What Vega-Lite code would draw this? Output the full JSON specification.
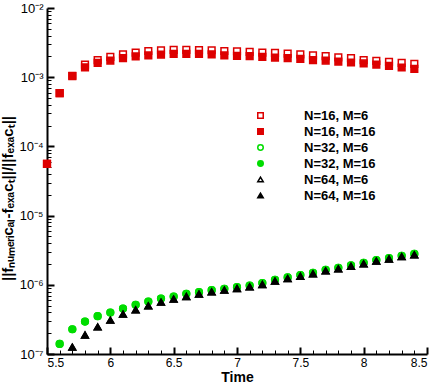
{
  "$schema": "https://vega.github.io/schema/vega-lite/v6.json",
  "width": 380,
  "height": 346,
  "autosize": {"type": "none"},
  "padding": {"left": 47, "top": 8, "right": 9, "bottom": 30},
  "background": "white",
  "config": {"view": {"stroke": null}, "font": "Liberation Sans"},
  "data": {"values": [
    {"t": 5.5, "n16m6": 5.6e-5, "n16m16": 5.6e-5, "n32m6": null, "n32m16": null, "n64m6": null, "n64m16": null},
    {"t": 5.6, "n16m6": 5.9e-4, "n16m16": 5.9e-4, "n32m6": 1.4e-7, "n32m16": 1.4e-7, "n64m6": null, "n64m16": null},
    {"t": 5.7, "n16m6": 1.05e-3, "n16m16": 1.04e-3, "n32m6": 2.28e-7, "n32m16": 2.28e-7, "n64m6": 1.26e-7, "n64m16": 1.26e-7},
    {"t": 5.8, "n16m6": 1.52e-3, "n16m16": 1.39e-3, "n32m6": 2.94e-7, "n32m16": 2.94e-7, "n64m6": 1.88e-7, "n64m16": 1.88e-7},
    {"t": 5.9, "n16m6": 1.76e-3, "n16m16": 1.61e-3, "n32m6": 3.52e-7, "n32m16": 3.52e-7, "n64m6": 2.46e-7, "n64m16": 2.46e-7},
    {"t": 6.0, "n16m6": 1.96e-3, "n16m16": 1.74e-3, "n32m6": 3.97e-7, "n32m16": 3.97e-7, "n64m6": 3.08e-7, "n64m16": 3.08e-7},
    {"t": 6.1, "n16m6": 2.14e-3, "n16m16": 1.88e-3, "n32m6": 4.54e-7, "n32m16": 4.54e-7, "n64m6": 3.76e-7, "n64m16": 3.76e-7},
    {"t": 6.2, "n16m6": 2.27e-3, "n16m16": 2.0e-3, "n32m6": 5.13e-7, "n32m16": 5.13e-7, "n64m6": 4.34e-7, "n64m16": 4.34e-7},
    {"t": 6.3, "n16m6": 2.39e-3, "n16m16": 2.07e-3, "n32m6": 5.73e-7, "n32m16": 5.73e-7, "n64m6": 4.96e-7, "n64m16": 4.96e-7},
    {"t": 6.4, "n16m6": 2.45e-3, "n16m16": 2.12e-3, "n32m6": 6.33e-7, "n32m16": 6.33e-7, "n64m6": 5.61e-7, "n64m16": 5.61e-7},
    {"t": 6.5, "n16m6": 2.49e-3, "n16m16": 2.17e-3, "n32m6": 6.77e-7, "n32m16": 6.77e-7, "n64m6": 6.21e-7, "n64m16": 6.21e-7},
    {"t": 6.6, "n16m6": 2.49e-3, "n16m16": 2.17e-3, "n32m6": 7.41e-7, "n32m16": 7.41e-7, "n64m6": 6.77e-7, "n64m16": 6.77e-7},
    {"t": 6.7, "n16m6": 2.47e-3, "n16m16": 2.17e-3, "n32m6": 7.83e-7, "n32m16": 7.83e-7, "n64m6": 7.33e-7, "n64m16": 7.33e-7},
    {"t": 6.8, "n16m6": 2.45e-3, "n16m16": 2.14e-3, "n32m6": 8.37e-7, "n32m16": 8.37e-7, "n64m6": 7.92e-7, "n64m16": 7.92e-7},
    {"t": 6.9, "n16m6": 2.39e-3, "n16m16": 2.07e-3, "n32m6": 8.75e-7, "n32m16": 8.75e-7, "n64m6": 8.35e-7, "n64m16": 8.35e-7},
    {"t": 7.0, "n16m6": 2.37e-3, "n16m16": 2.03e-3, "n32m6": 9.25e-7, "n32m16": 9.25e-7, "n64m6": 8.85e-7, "n64m16": 8.85e-7},
    {"t": 7.1, "n16m6": 2.32e-3, "n16m16": 2.01e-3, "n32m6": 9.77e-7, "n32m16": 9.77e-7, "n64m6": 9.35e-7, "n64m16": 9.35e-7},
    {"t": 7.2, "n16m6": 2.27e-3, "n16m16": 1.96e-3, "n32m6": 1.06e-6, "n32m16": 1.06e-6, "n64m6": 1.01e-6, "n64m16": 1.01e-6},
    {"t": 7.3, "n16m6": 2.24e-3, "n16m16": 1.92e-3, "n32m6": 1.18e-6, "n32m16": 1.18e-6, "n64m6": 1.13e-6, "n64m16": 1.13e-6},
    {"t": 7.4, "n16m6": 2.19e-3, "n16m16": 1.88e-3, "n32m6": 1.28e-6, "n32m16": 1.28e-6, "n64m6": 1.23e-6, "n64m16": 1.23e-6},
    {"t": 7.5, "n16m6": 2.14e-3, "n16m16": 1.84e-3, "n32m6": 1.38e-6, "n32m16": 1.38e-6, "n64m6": 1.33e-6, "n64m16": 1.33e-6},
    {"t": 7.6, "n16m6": 2.07e-3, "n16m16": 1.77e-3, "n32m6": 1.49e-6, "n32m16": 1.49e-6, "n64m6": 1.44e-6, "n64m16": 1.44e-6},
    {"t": 7.7, "n16m6": 2.01e-3, "n16m16": 1.74e-3, "n32m6": 1.65e-6, "n32m16": 1.65e-6, "n64m6": 1.59e-6, "n64m16": 1.59e-6},
    {"t": 7.8, "n16m6": 1.94e-3, "n16m16": 1.68e-3, "n32m6": 1.76e-6, "n32m16": 1.76e-6, "n64m6": 1.70e-6, "n64m16": 1.70e-6},
    {"t": 7.9, "n16m6": 1.88e-3, "n16m16": 1.63e-3, "n32m6": 1.91e-6, "n32m16": 1.91e-6, "n64m6": 1.85e-6, "n64m16": 1.85e-6},
    {"t": 8.0, "n16m6": 1.77e-3, "n16m16": 1.58e-3, "n32m6": 2.08e-6, "n32m16": 2.08e-6, "n64m6": 2.01e-6, "n64m16": 2.01e-6},
    {"t": 8.1, "n16m6": 1.72e-3, "n16m16": 1.52e-3, "n32m6": 2.28e-6, "n32m16": 2.28e-6, "n64m6": 2.20e-6, "n64m16": 2.20e-6},
    {"t": 8.2, "n16m6": 1.66e-3, "n16m16": 1.46e-3, "n32m6": 2.44e-6, "n32m16": 2.44e-6, "n64m6": 2.36e-6, "n64m16": 2.36e-6},
    {"t": 8.3, "n16m6": 1.61e-3, "n16m16": 1.38e-3, "n32m6": 2.63e-6, "n32m16": 2.63e-6, "n64m6": 2.55e-6, "n64m16": 2.55e-6},
    {"t": 8.4, "n16m6": 1.56e-3, "n16m16": 1.32e-3, "n32m6": 2.79e-6, "n32m16": 2.79e-6, "n64m6": 2.71e-6, "n64m16": 2.71e-6}
  ]},
  "transform": [
    {"fold": ["n16m6", "n16m16", "n32m6", "n32m16", "n64m6", "n64m16"], "as": ["series", "v"]},
    {"filter": "isValid(datum.v)"}
  ],
  "resolve": {"axis": {"x": "independent", "y": "independent"}},
  "layer": [
    {
      "mark": {"type": "point", "size": 45, "strokeWidth": 1.5, "opacity": 1},
      "encoding": {
        "x": {"field": "t", "type": "quantitative",
          "scale": {"domain": [5.5, 8.5], "nice": false, "zero": false},
          "axis": {"orient": "bottom", "values": [5.5, 6, 6.5, 7, 7.5, 8, 8.5], "format": "~g",
            "grid": false, "tickSize": -7, "tickWidth": 2, "tickColor": "black",
            "domainColor": "black", "domainWidth": 2,
            "labelFont": "Liberation Sans", "labelFontSize": 12, "labelColor": "black", "labelPadding": 10,
            "title": "Time", "titleFont": "Liberation Sans", "titleFontSize": 14, "titleFontWeight": "bold", "titleColor": "black",
            "titleY": 27, "titleBaseline": "alphabetic"}},
        "y": {"field": "v", "type": "quantitative",
          "scale": {"type": "log", "domain": [1e-7, 1e-2], "nice": false},
          "axis": {"orient": "left", "values": [1e-7, 1e-6, 1e-5, 1e-4, 1e-3, 1e-2],
            "labelExpr": "'10⁻' + ['⁰','¹','²','³','⁴','⁵','⁶','⁷','⁸','⁹'][round(-log(datum.value)/LN10)]",
            "grid": false, "tickSize": -7, "tickWidth": 2, "tickColor": "black",
            "domainColor": "black", "domainWidth": 2,
            "labelFont": "Liberation Sans", "labelFontSize": 13, "labelColor": "black", "labelPadding": 11,
            "title": "||fₙᵤₘₑᵣᵢcₐₗ-fₑₓₐcₜ||/||fₑₓₐcₜ||", "titleFont": "Liberation Sans", "titleFontSize": 15, "titleFontWeight": "bold", "titleColor": "black", "titlePadding": 3, "titleY": 190}},
        "shape": {"field": "series", "type": "nominal",
          "scale": {"domain": ["n16m6", "n16m16", "n32m6", "n32m16", "n64m6", "n64m16"], "range": ["square", "square", "circle", "circle", "triangle-up", "triangle-up"]},
          "legend": {"orient": "none", "legendX": 207, "legendY": 101, "title": null, "padding": 0,
            "labelExpr": "{'n16m6':'N=16, M=6','n16m16':'N=16, M=16','n32m6':'N=32, M=6','n32m16':'N=32, M=16','n64m6':'N=64, M=6','n64m16':'N=64, M=16'}[datum.label]",
            "labelFont": "Liberation Sans", "labelFontSize": 13, "labelFontWeight": "bold", "labelColor": "black",
            "labelOffset": 37, "symbolSize": 30, "symbolStrokeWidth": 1.5, "rowPadding": 2}},
        "stroke": {"field": "series", "type": "nominal",
          "scale": {"domain": ["n16m6", "n16m16", "n32m6", "n32m16", "n64m6", "n64m16"], "range": ["#dd0000", "#dd0000", "#00dd00", "#00dd00", "#000000", "#000000"]},
          "legend": {"orient": "none", "legendX": 207, "legendY": 101, "title": null, "padding": 0,
            "labelExpr": "{'n16m6':'N=16, M=6','n16m16':'N=16, M=16','n32m6':'N=32, M=6','n32m16':'N=32, M=16','n64m6':'N=64, M=6','n64m16':'N=64, M=16'}[datum.label]",
            "labelFont": "Liberation Sans", "labelFontSize": 13, "labelFontWeight": "bold", "labelColor": "black",
            "labelOffset": 37, "symbolSize": 30, "symbolStrokeWidth": 1.5, "rowPadding": 2}},
        "fill": {"field": "series", "type": "nominal",
          "scale": {"domain": ["n16m6", "n16m16", "n32m6", "n32m16", "n64m6", "n64m16"], "range": ["#ffffff", "#dd0000", "#ffffff", "#00dd00", "#ffffff", "#000000"]},
          "legend": {"orient": "none", "legendX": 207, "legendY": 101, "title": null, "padding": 0,
            "labelExpr": "{'n16m6':'N=16, M=6','n16m16':'N=16, M=16','n32m6':'N=32, M=6','n32m16':'N=32, M=16','n64m6':'N=64, M=6','n64m16':'N=64, M=16'}[datum.label]",
            "labelFont": "Liberation Sans", "labelFontSize": 13, "labelFontWeight": "bold", "labelColor": "black",
            "labelOffset": 37, "symbolSize": 30, "symbolStrokeWidth": 1.5, "rowPadding": 2}}
      }
    },
    {
      "mark": {"type": "point", "opacity": 0},
      "encoding": {
        "x": {"field": "t", "type": "quantitative",
          "axis": {"orient": "bottom", "values": [5.6, 5.7, 5.8, 5.9, 6.1, 6.2, 6.3, 6.4, 6.6, 6.7, 6.8, 6.9, 7.1, 7.2, 7.3, 7.4, 7.6, 7.7, 7.8, 7.9, 8.1, 8.2, 8.3, 8.4],
            "grid": false, "labels": false, "domain": false, "tickSize": -4, "tickWidth": 1, "tickColor": "black", "title": null}},
        "y": {"field": "v", "type": "quantitative",
          "axis": {"orient": "left", "values": [2e-7, 3e-7, 4e-7, 5e-7, 6e-7, 7e-7, 8e-7, 9e-7, 2e-6, 3e-6, 4e-6, 5e-6, 6e-6, 7e-6, 8e-6, 9e-6, 2e-5, 3e-5, 4e-5, 5e-5, 6e-5, 7e-5, 8e-5, 9e-5, 2e-4, 3e-4, 4e-4, 5e-4, 6e-4, 7e-4, 8e-4, 9e-4, 2e-3, 3e-3, 4e-3, 5e-3, 6e-3, 7e-3, 8e-3, 9e-3],
            "grid": false, "labels": false, "domain": false, "tickSize": -4, "tickWidth": 1, "tickColor": "black", "title": null}}
      }
    }
  ]
}
